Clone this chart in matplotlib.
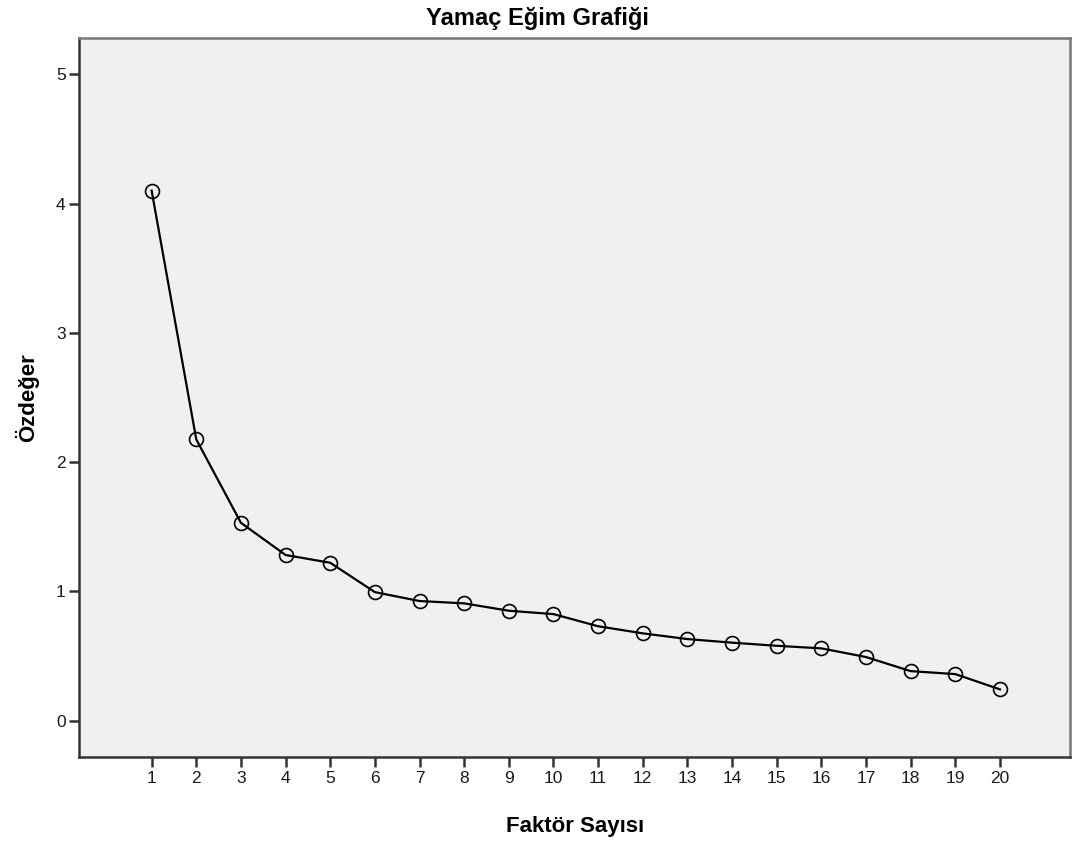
import matplotlib
matplotlib.use("Agg")
import matplotlib.pyplot as plt

factors = list(range(1, 21))
eigenvalues = [4.10, 2.176, 1.531, 1.282, 1.222, 0.995, 0.926, 0.908, 0.851, 0.825,
               0.731, 0.676, 0.632, 0.604, 0.580, 0.560, 0.493, 0.384, 0.361, 0.243]
y_ticks = [0, 1, 2, 3, 4, 5]

plt.rcParams['font.family'] = ['Liberation Sans', 'DejaVu Sans']

fig = plt.figure(figsize=(10.74, 8.41), dpi=100)
ax = fig.add_axes([0.074, 0.0999, 0.9223, 0.8549])
ax.set_facecolor('#f0f0f0')

ax.plot(factors, eigenvalues, color='black', linewidth=1.6, marker='o',
        markersize=10, markerfacecolor='none', markeredgecolor='black',
        markeredgewidth=1.2)

ax.set_xlim(-0.616, 21.57)
ax.set_ylim(-0.28, 5.28)
ax.set_xticks(factors)
ax.set_yticks(y_ticks)
ax.tick_params(axis='both', direction='out', length=7, width=1.8, color='#333333',
               labelsize=12.5, labelcolor='#1a1a1a', pad=3)
ax.tick_params(top=False, right=False)

for side in ['left', 'bottom']:
    ax.spines[side].set_color('#333333')
    ax.spines[side].set_linewidth(1.8)
for side in ['top', 'right']:
    ax.spines[side].set_color('#777777')
    ax.spines[side].set_linewidth(1.8)

ax.set_xlabel('Faktör Sayısı', fontsize=16, fontweight='bold', labelpad=22)
ax.set_ylabel('Özdeğer', fontsize=16, fontweight='bold', labelpad=12)
fig.text(0.5, 0.978, 'Yamaç Eğim Grafiği', ha='center', va='center',
         fontsize=17, fontweight='bold')

fig.savefig('out.png', dpi=100, facecolor='white')
